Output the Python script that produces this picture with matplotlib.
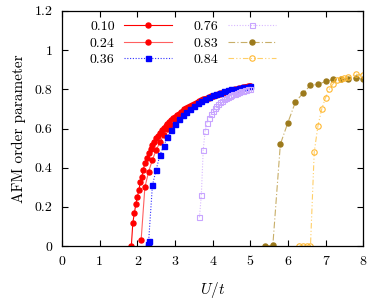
import matplotlib
matplotlib.use('Agg')
import matplotlib.pyplot as plt

plt.rcParams['font.family'] = 'cmr10'
plt.rcParams['mathtext.fontset'] = 'cm'
plt.rcParams['axes.formatter.use_mathtext'] = True

# datos
u_010 = [1.84, 1.88, 1.92, 1.96, 2.00, 2.04, 2.08, 2.12, 2.16, 2.20,
         2.25, 2.30, 2.35, 2.40, 2.45, 2.50, 2.55, 2.60, 2.65, 2.70,
         2.75, 2.80, 2.85, 2.90, 2.95, 3.00, 3.05, 3.10, 3.15, 3.20,
         3.25, 3.30, 3.35, 3.40, 3.45, 3.50, 3.55, 3.60, 3.65, 3.70,
         3.75, 3.80, 3.85, 3.90, 3.95, 4.00, 4.05, 4.10, 4.15, 4.20,
         4.25, 4.30, 4.35, 4.40, 4.45, 4.50, 4.55, 4.60, 4.65, 4.70,
         4.75, 4.80, 4.85, 4.90, 4.95, 5.00]
m_010 = [0.0, 0.12, 0.167, 0.215, 0.25, 0.287, 0.325, 0.355, 0.39, 0.425,
         0.452, 0.476, 0.497, 0.516, 0.533, 0.549, 0.564, 0.578, 0.591, 0.603,
         0.614, 0.624, 0.634, 0.643, 0.652, 0.660, 0.668, 0.676, 0.683, 0.690,
         0.697, 0.703, 0.709, 0.715, 0.720, 0.725, 0.730, 0.735, 0.740, 0.744,
         0.748, 0.752, 0.756, 0.760, 0.764, 0.767, 0.770, 0.773, 0.776, 0.779,
         0.782, 0.785, 0.788, 0.790, 0.793, 0.795, 0.798, 0.800, 0.803, 0.805,
         0.807, 0.810, 0.812, 0.814, 0.816, 0.818]

u_024 = [2.1, 2.2, 2.3, 2.4, 2.5, 2.6, 2.7, 2.8, 2.9, 3.0,
         3.1, 3.2, 3.3, 3.4, 3.5, 3.6, 3.7, 3.8, 3.9, 4.0,
         4.1, 4.2, 4.3, 4.4, 4.5, 4.6, 4.7, 4.8, 4.9, 5.0]
m_024 = [0.03, 0.30, 0.38, 0.44, 0.49, 0.53, 0.565, 0.595, 0.62, 0.645,
         0.665, 0.682, 0.697, 0.71, 0.721, 0.731, 0.741, 0.749, 0.757, 0.764,
         0.771, 0.777, 0.783, 0.788, 0.793, 0.798, 0.803, 0.807, 0.811, 0.815]

u_036 = [2.28, 2.29, 2.30, 2.4, 2.5, 2.6, 2.7, 2.8, 2.9, 3.0,
         3.1, 3.2, 3.3, 3.4, 3.5, 3.6, 3.7, 3.8, 3.9, 4.0,
         4.1, 4.2, 4.3, 4.4, 4.5, 4.6, 4.7, 4.8, 4.9, 5.0]
m_036 = [0.0, 0.012, 0.024, 0.31, 0.39, 0.465, 0.512, 0.555, 0.592, 0.622,
         0.647, 0.668, 0.686, 0.702, 0.716, 0.729, 0.741, 0.752, 0.761, 0.769,
         0.776, 0.783, 0.789, 0.794, 0.799, 0.803, 0.807, 0.811, 0.814, 0.817]

u_076 = [3.65, 3.70, 3.75, 3.80, 3.85, 3.90, 3.95, 4.00, 4.05, 4.10,
         4.15, 4.20, 4.25, 4.30, 4.35, 4.40, 4.45, 4.50, 4.55, 4.60,
         4.65, 4.70, 4.75, 4.80, 4.85, 4.90, 4.95, 5.00]
m_076 = [0.147, 0.26, 0.49, 0.586, 0.63, 0.655, 0.675, 0.69, 0.703, 0.714,
         0.724, 0.733, 0.741, 0.748, 0.754, 0.760, 0.765, 0.770, 0.774, 0.778,
         0.782, 0.786, 0.789, 0.792, 0.795, 0.798, 0.800, 0.802]

u_083 = [5.4, 5.6, 5.8, 6.0, 6.2, 6.4, 6.6, 6.8, 7.0, 7.2, 7.4, 7.6, 7.8, 8.0]
m_083 = [0.0, 0.005, 0.52, 0.63, 0.735, 0.78, 0.82, 0.825, 0.84, 0.85,
         0.855, 0.855, 0.857, 0.855]

u_084 = [6.3, 6.4, 6.5, 6.6, 6.7, 6.8, 6.9, 7.0, 7.1, 7.2, 7.3, 7.4, 7.5,
         7.6, 7.8, 8.0]
m_084 = [0.0, 0.0, 0.0, 0.0, 0.48, 0.615, 0.70, 0.757, 0.80, 0.828, 0.845,
         0.852, 0.857, 0.862, 0.877, 0.872]

x_ticks = [0, 1, 2, 3, 4, 5, 6, 7, 8]
y_ticks = [0, 0.2, 0.4, 0.6, 0.8, 1.0, 1.2]
y_tick_labels = ['0', '0.2', '0.4', '0.6', '0.8', '1', '1.2']

fig = plt.figure(figsize=(3.74, 3.02), dpi=100)
ax = fig.add_axes([0.166, 0.185, 0.805, 0.779])

ms = 3.6
ax.plot(u_010, m_010, color='red', lw=0.8, ls='-', marker='o', ms=ms,
        mec='red', label='0.10')
ax.plot(u_024, m_024, color='#ff6060', lw=0.8, ls='-', marker='o', ms=ms,
        mfc='red', mec='red', label='0.24')
ax.plot(u_036, m_036, color='#3030ff', lw=0.8, ls=(0, (1, 1.5)), marker='s',
        ms=ms, mfc='blue', mec='blue', label='0.36')
ax.plot(u_076, m_076, color='#d8b8ff', lw=0.8, ls=(0, (1, 1.5)), marker='s',
        ms=ms, mfc='none', mec='#c8a4ff', mew=0.8, label='0.76')
ax.plot(u_083, m_083, color='#c8ae68', lw=0.8, ls=(0, (6, 2, 1, 2)),
        marker='o', ms=ms, mfc='#9c7a1c', mec='#9c7a1c', label='0.83')
ax.plot(u_084, m_084, color='#ffcf68', lw=0.8, ls=(0, (5, 2, 1, 2, 1, 2)),
        marker='o', ms=ms + 0.3, mfc='none', mec='#ffb830', mew=0.8,
        label='0.84')

ax.set_xlim(0, 8)
ax.set_ylim(0, 1.2)
ax.set_xticks(x_ticks)
ax.set_xticklabels([str(t) for t in x_ticks])
ax.set_yticks(y_ticks)
ax.set_yticklabels(y_tick_labels)
ax.tick_params(direction='in', top=True, right=True, length=4, width=0.8,
               labelsize=10, pad=7)
for s in ax.spines.values():
    s.set_linewidth(0.9)

ax.set_xlabel(r'$U/t$', fontsize=11, labelpad=9)
ax.set_ylabel('AFM order parameter', fontsize=11, labelpad=6)

ax.legend(ncol=2, loc='upper left', bbox_to_anchor=(0.06, 1.0),
          frameon=False, markerfirst=False, fontsize=10, handlelength=3.4,
          handletextpad=0.7, columnspacing=1.6, labelspacing=0.25,
          borderaxespad=0.3)

plt.savefig('out.png', dpi=100)
